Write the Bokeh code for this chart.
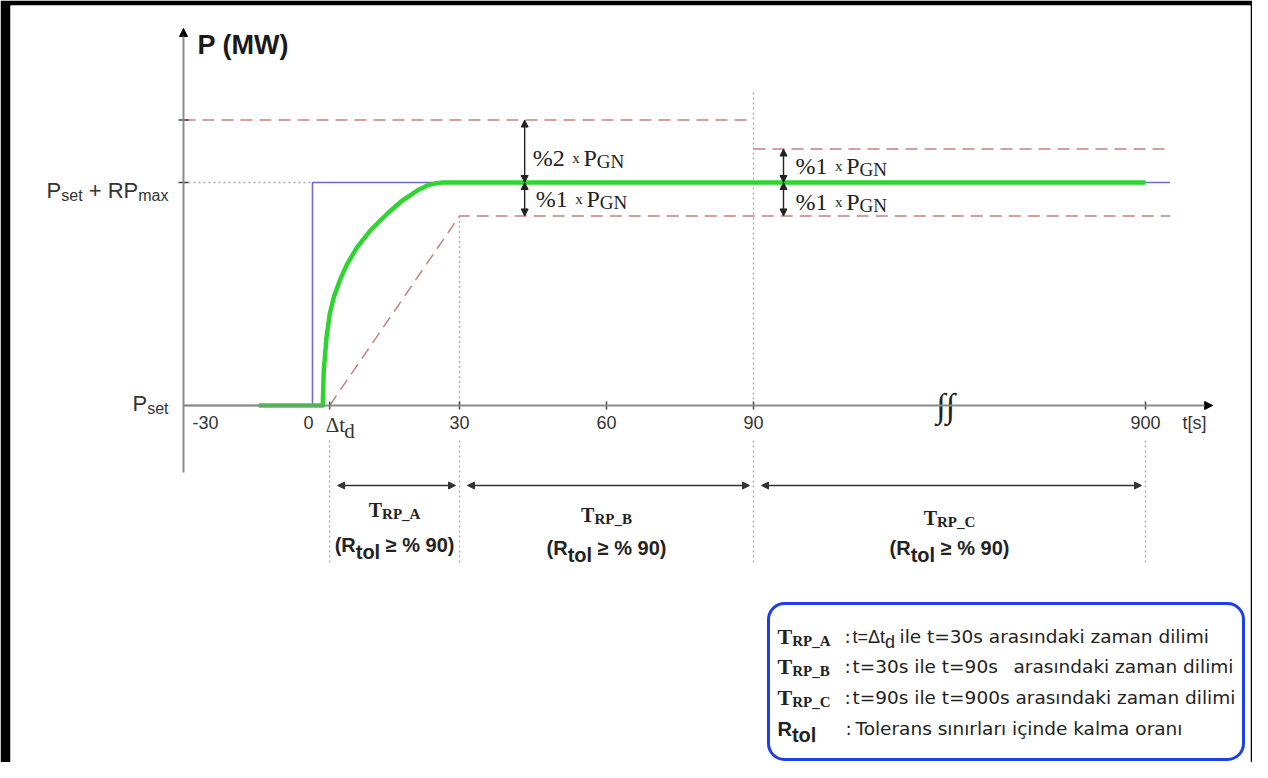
import numpy as np
from bokeh.plotting import figure
from bokeh.models import Arrow, NormalHead, BoxAnnotation, Range1d
from bokeh.core.properties import value
from bokeh.embed import file_html
from bokeh.resources import INLINE

# ---------------- data ----------------
tick_t = [-30, 0, 30, 60, 90, 900]
tick_labels = ["-30", "0", "30", "60", "90", "900"]
dt_d = 3.5                       # Δt_d  [s]
P_set = 0.0
P_max = 100.0                    # P_set + RP_max
band_upper_AB = 128.0            # +%2 x P_GN (until t=90)
band_upper_C = 115.0             # +%1 x P_GN (after t=90)
band_lower = 85.0                # -%1 x P_GN
blue_t = [-30, 0, 0, 950]
blue_p = [0, 0, 100, 100]
green_t = [-12.5, 2.1, 2.1, 2.3, 2.86, 3.53, 4.35, 5.57, 7.08, 9.12, 11.84, 15.24,
           18.31, 21.37, 23.41, 25.45, 26.5, 900]
green_p = [0, 0, 0.8, 15.7, 30.6, 41.1, 48.6, 56.1, 63.5, 71.0, 78.5, 86.0,
           91.9, 96.4, 98.7, 99.7, 100, 100]
ramp_t = [3.5, 30, 950]
ramp_p = [0, 85, 85]
upperAB_t = [-30, 90]
upperC_t = [90, 950]
period_bounds = [(3.5, 30), (30, 90), (90, 900)]
period_names = ["A", "B", "C"]
tol_note_t = [43.3, 152]
axis_end_t = 1037
break_t = 487

# broken time axis: display coordinate for a time value
BRK_T = [-30, 0, 90, 900, 1100]
BRK_D = [-26.33, 0, 90, 170, 190]


def D(t):
    return float(np.interp(float(t), BRK_T, BRK_D))


def Dl(ts):
    return [D(t) for t in ts]


# ---------------- figure geometry ----------------
PX, PY = 4.9, 2.23          # px per display-second, px per power unit
X0, Y0 = 312, 405           # pixel of (t=0, P_set)
BL, BR, BT, BB = 10, 2, 5, 0
W, H = 1252, 762
TEXT_DY = -7                # baseline correction for text


def XP(px):
    return (px - X0) / PX


def YP(py):
    return (Y0 - py) / PY


p = figure(width=W, height=H,
           x_range=Range1d(XP(BL), XP(W - BR)), y_range=Range1d(YP(H - BB), YP(BT)),
           output_backend="svg", toolbar_location=None,
           x_axis_location=None, y_axis_location=None,
           min_border_left=BL, min_border_right=BR, min_border_top=BT, min_border_bottom=BB,
           border_fill_color="black", background_fill_color="white",
           outline_line_color=None)
p.grid.visible = False

SANS = {' ': 278, '%': 889, '(': 333, ')': 333, '+': 584, '-': 333, '.': 278, ':': 278,
        '=': 584, '[': 278, ']': 278, '_': 556, '≥': 549, 'Δ': 668,
        'A': 667, 'B': 667, 'C': 722, 'G': 778, 'M': 833, 'N': 722, 'P': 667, 'R': 722,
        'T': 611, 'W': 944, 'a': 556, 'c': 500, 'd': 556, 'e': 556, 'i': 222, 'k': 500,
        'l': 222, 'm': 833, 'n': 556, 'o': 556, 'r': 333, 's': 500, 't': 278, 'x': 500,
        'z': 500, 'ı': 278, 'ç': 500}
SANS_B = dict(SANS, **{'t': 333, 'o': 611, 'l': 278, 'd': 611, 'i': 278, 'n': 611,
                       'r': 389, 's': 556, 'x': 556})
SERIF = {' ': 250, '%': 833, '_': 500, 'x': 500, 'P': 556, 'G': 722, 'N': 722, 'T': 611,
         'R': 667, 'A': 722, 'B': 667, 'C': 667, 't': 278, 'd': 500, 'Δ': 612}
SERIF_B = dict(SERIF, **{'T': 667, 'R': 722, 'P': 611, 'A': 722, 'B': 667, 'C': 722})
DJV = {' ': 318, ':': 337, '=': 838, 'Δ': 684, 'T': 611, 'a': 613, 'ç': 550, 'd': 635,
       'e': 615, 'i': 278, 'ı': 278, 'k': 579, 'l': 278, 'm': 974, 'n': 634, 'o': 612,
       'r': 411, 's': 521, 't': 392, 'z': 525}
SANSF, SERIFF, DJVF = "Liberation Sans", "Liberation Serif", "DejaVu Sans"


def tw(text, size, fam, bold):
    if fam == SERIFF:
        tab, d = (SERIF_B if bold else SERIF), 500
    elif fam == DJVF:
        tab, d = DJV, 636
    else:
        tab, d = (SANS_B if bold else SANS), 556
    return sum(tab.get(c, d) for c in text) * size / 1000.0


def rich(x, y, parts, align="left", color="#222222"):
    ws = [tw(t, s, f, b) for (t, s, f, b, dy) in parts]
    tot = sum(ws)
    off = {"left": 0.0, "center": -tot / 2, "right": -tot}[align]
    for (t, s, f, b, dy), w in zip(parts, ws):
        lead = len(t) - len(t.lstrip(' '))
        core = t.strip(' ')
        if core:
            p.text(x=[x], y=[y], text=[core], x_offset=off + tw(' ' * lead, s, f, b),
                   y_offset=dy + TEXT_DY,
                   text_font=value(f), text_font_size=f"{s}px",
                   text_font_style="bold" if b else "normal", text_color=color,
                   text_align="left", text_baseline="alphabetic")
        off += w


AX = "#8a8a8a"
DOT = "#a8a8a8"
RED = "#c4827f"
BLUE = "#6c6cc6"
GREEN = "#2fd42f"

# ---------------- dotted guide lines ----------------
y_lo_a, y_lo_b = YP(440), YP(562)
vx = Dl([dt_d, 30, 90, 900])
p.segment(x0=vx, y0=[y_lo_a] * 4, x1=vx, y1=[y_lo_b] * 4,
          line_color=DOT, line_width=1.3, line_dash="2 3")
p.segment(x0=[D(90), D(30)], y0=[YP(92), band_lower], x1=[D(90), D(30)], y1=[P_set, P_set],
          line_color=DOT, line_width=1.3, line_dash="2 3")
p.segment(x0=[D(-30)], y0=[P_max], x1=[D(0)], y1=[P_max],
          line_color=DOT, line_width=1.3, line_dash="2 3")

# ---------------- tolerance bands (dashed) ----------------
p.line(Dl(upperAB_t), [band_upper_AB] * 2, line_color=RED, line_width=1.5, line_dash="12 7")
p.line(Dl(upperC_t), [band_upper_C] * 2, line_color=RED, line_width=1.5, line_dash="12 7")
p.line(Dl(ramp_t), ramp_p, line_color=RED, line_width=1.5, line_dash="12 7")

# ---------------- axes ----------------
p.add_layout(Arrow(x_start=D(-30), y_start=YP(472), x_end=D(-30), y_end=YP(28),
                   line_color=AX, line_width=2,
                   end=NormalHead(size=8, fill_color="black", line_color="black", line_width=1)))
p.add_layout(Arrow(x_start=D(-30), y_start=P_set, x_end=D(axis_end_t), y_end=P_set,
                   line_color=AX, line_width=2,
                   end=NormalHead(size=8, fill_color="black", line_color="black", line_width=1)))
tx = Dl([dt_d, 30, 60, 90, 900])
p.segment(x0=tx, y0=[-4 / PY] * 5, x1=tx, y1=[4 / PY] * 5, line_color="#444444", line_width=1.5)
p.segment(x0=[D(-30) - 5 / PX] * 2, y0=[band_upper_AB, P_max],
          x1=[D(-30) + 5 / PX] * 2, y1=[band_upper_AB, P_max], line_color="#444444", line_width=1.5)

# ---------------- signals ----------------
p.line(Dl(blue_t), blue_p, line_color=BLUE, line_width=1.6)
p.line(Dl(green_t), green_p, line_color=GREEN, line_width=4.5, line_join="round")

# break symbol on the time axis
p.text(x=[D(break_t)], y=[P_set], text=["∫∫"], text_font=value(SERIFF),
       text_font_size="34px", text_align="center", text_baseline="middle", text_color="#222222")

# ---------------- tolerance annotations ----------------
def dbl_arrow(x, y0, y1):
    p.add_layout(Arrow(x_start=x, y_start=y0, x_end=x, y_end=y1, line_color="#222222", line_width=1.4,
                       start=NormalHead(size=7, fill_color="#222222", line_color="#222222", line_width=1),
                       end=NormalHead(size=7, fill_color="#222222", line_color="#222222", line_width=1)))


xa, xc = D(tol_note_t[0]), D(tol_note_t[1])
dbl_arrow(xa, P_max, band_upper_AB)
dbl_arrow(xa, P_max, band_lower)
dbl_arrow(xc, P_max, band_upper_C)
dbl_arrow(xc, P_max, band_lower)


def pgn(x, y, pct):
    rich(x, y, [(pct, 24, SERIFF, False, 0), ("  x ", 15, SERIFF, False, 0),
                ("P", 24, SERIFF, False, 0), ("GN", 19, SERIFF, False, 4)])


pgn(xa + 8 / PX, YP(164), "%2")
pgn(xa + 11 / PX, YP(205), "%1")
pgn(xc + 12 / PX, YP(172), "%1")
pgn(xc + 12 / PX, YP(208), "%1")

# ---------------- axis labels ----------------
rich(XP(197), YP(51), [("P (MW)", 27, SANSF, True, 0)], color="#1a1a1a")
rich(XP(168), YP(197), [("P", 22, SANSF, False, 0), ("set", 16, SANSF, False, 5),
                        (" + ", 22, SANSF, False, 0), ("RP", 22, SANSF, False, 0),
                        ("max", 16, SANSF, False, 5)], align="right", color="#333333")
rich(XP(168), YP(410), [("P", 22, SANSF, False, 0), ("set", 16, SANSF, False, 5)],
     align="right", color="#333333")

for t, lab in zip(tick_t, tick_labels):
    if t == -30:
        rich(D(t) + 9 / PX, YP(429), [(lab, 18, SANSF, False, 0)], align="left", color="#333333")
    elif t == 0:
        rich(D(t) - 4 / PX, YP(429), [(lab, 18, SANSF, False, 0)], align="center", color="#333333")
    else:
        rich(D(t), YP(429), [(lab, 18, SANSF, False, 0)], align="center", color="#333333")
rich(D(dt_d) - 4 / PX, YP(431), [("Δt", 21, SERIFF, False, 0), ("d", 21, SERIFF, False, 6)],
     color="#333333")
rich(XP(1194), YP(429), [("t[s]", 18, SANSF, False, 0)], align="center", color="#333333")

# ---------------- period arrows and labels ----------------
y_per = YP(485)
t_rows = [516, 521, 524]
r_rows = [551, 554, 554]
for (a, b), nm, tr, rr in zip(period_bounds, period_names, t_rows, r_rows):
    xs, xe = D(a) + 8 / PX, D(b) - 4 / PX
    p.add_layout(Arrow(x_start=xs, y_start=y_per, x_end=xe, y_end=y_per, line_color="#333333",
                       line_width=1.5,
                       start=NormalHead(size=7, fill_color="#333333", line_color="#333333", line_width=1),
                       end=NormalHead(size=7, fill_color="#333333", line_color="#333333", line_width=1)))
    xm = (D(a) + D(b)) / 2
    rich(xm, YP(tr), [("T", 20, SERIFF, True, 0), ("RP_" + nm, 15, SERIFF, True, 4)], align="center")
    rich(xm, YP(rr), [("(R", 20, SANSF, True, 0), ("tol", 20, SANSF, True, 7),
                      (" ≥ % 90)", 20, SANSF, True, 0)], align="center")

# ---------------- legend box ----------------
p.add_layout(BoxAnnotation(left=XP(768), right=XP(1243), top=YP(603), bottom=YP(759),
                           fill_alpha=0, line_color="#1f3fe6", line_alpha=1.0,
                           line_width=3, border_radius=16))
LF = 18.5
leg_rows = [643, 673, 704, 735]
for nm, row in zip(period_names, leg_rows[:3]):
    rich(XP(777), YP(row), [("T", 22, SERIFF, True, 0), ("RP_" + nm, 15, SERIFF, True, 4)])
    rich(XP(844), YP(row), [(":", LF, DJVF, False, 0)])
rich(XP(852), YP(leg_rows[0]), [("t=Δt", 18, SANSF, False, 0), ("d", 18, SANSF, False, 5)])
rich(XP(899), YP(leg_rows[0]), [("ile t=30s arasındaki zaman dilimi", LF, DJVF, False, 0)])
rich(XP(852), YP(leg_rows[1]), [("t=30s ile t=90s", LF, DJVF, False, 0)])
rich(XP(1233), YP(leg_rows[1]), [("arasındaki zaman dilimi", LF, DJVF, False, 0)], align="right")
rich(XP(852), YP(leg_rows[2]), [("t=90s ile t=900s arasındaki zaman dilimi", LF, DJVF, False, 0)])
rich(XP(777), YP(leg_rows[3]), [("R", 20, SANSF, True, 0), ("tol", 20, SANSF, True, 6)])
rich(XP(845), YP(leg_rows[3]), [(":", LF, DJVF, False, 0)])
rich(XP(855), YP(leg_rows[3]), [("Tolerans sınırları içinde kalma oranı", LF, DJVF, False, 0)])

open("out.html", "w").write(file_html(p, INLINE))
